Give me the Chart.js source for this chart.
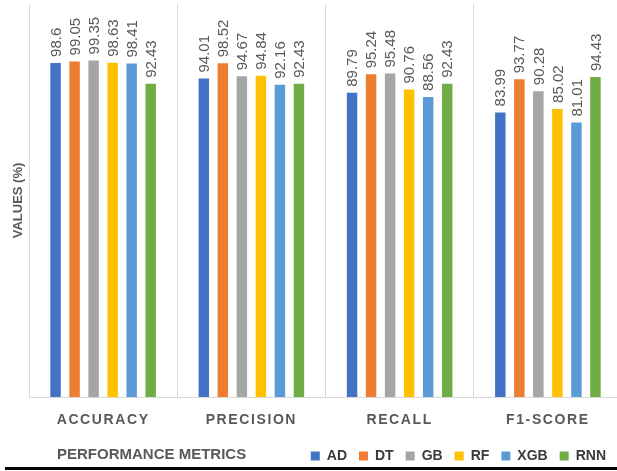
<!DOCTYPE html>
<html>
<head>
<meta charset="utf-8">
<script src="https://cdn.jsdelivr.net/npm/chart.js@4/dist/chart.umd.min.js"></script>
<style>
  html, body { margin: 0; padding: 0; background: #fff; }
  #wrap { position: relative; width: 617px; height: 471px; overflow: hidden; background: #fff; }
  #chart { position: absolute; left: 0; top: 0; }
  #rule { position: absolute; left: 5px; top: 467px; width: 612px; height: 3px; background: #000; }
</style>
</head>
<body>
<div id="wrap">
  <canvas id="chart" width="622" height="473"></canvas>
  <div id="rule"></div>
</div>
<script>
// Metrics on the category axis
const metrics = ['ACCURACY', 'PRECISION', 'RECALL', 'F1-SCORE'];

// Scores (%) per model
const modelNames = ['AD', 'DT', 'GB', 'RF', 'XGB', 'RNN'];
const adScores  = [98.6, 94.01, 89.79, 83.99];
const dtScores  = [99.05, 98.52, 95.24, 93.77];
const gbScores  = [99.35, 94.67, 95.48, 90.28];
const rfScores  = [98.63, 94.84, 90.76, 85.02];
const xgbScores = [98.41, 92.16, 88.56, 81.01];
const rnnScores = [92.43, 92.43, 92.43, 94.43];

const modelColors = ['#4472C4', '#ED7D31', '#A5A5A5', '#FFC000', '#5B9BD5', '#70AD47'];
const allScores = [adScores, dtScores, gbScores, rfScores, xgbScores, rnnScores];

const FONT = '"Liberation Sans", Arial, sans-serif';
const GREY_TEXT = '#595959';

// Value labels written vertically above each bar
const barValues = {
  id: 'barValues',
  afterDatasetsDraw(chart) {
    const ctx = chart.ctx;
    ctx.save();
    ctx.font = '15px ' + FONT;
    ctx.fillStyle = GREY_TEXT;
    ctx.textAlign = 'left';
    ctx.textBaseline = 'middle';
    chart.data.datasets.forEach((ds, i) => {
      chart.getDatasetMeta(i).data.forEach((bar, j) => {
        ctx.save();
        ctx.translate(bar.x + 1, bar.y - 6);
        ctx.rotate(-Math.PI / 2);
        ctx.fillText(String(ds.data[j]), 0, 0);
        ctx.restore();
      });
    });
    ctx.restore();
  }
};

// Spaced-out category labels, shifted axis title and legend nudge
const axisStyling = {
  id: 'axisStyling',
  beforeDraw(chart) {
    const x = chart.scales.x;
    if (x && !x._styled) {
      const drawTitle = x.drawTitle;
      const drawLabels = x.drawLabels;
      x.drawTitle = function () {
        const c = this.ctx;
        c.save();
        c.translate(28, 0);
        drawTitle.call(this);
        c.restore();
      };
      x.drawLabels = function (area) {
        const c = this.ctx;
        c.save();
        c.letterSpacing = '1.6px';
        drawLabels.call(this, area);
        c.restore();
      };
      x._styled = true;
    }
    const lg = chart.legend;
    if (lg && !lg._styled) {
      const draw = lg.draw;
      lg.draw = function (area) {
        const c = this.ctx;
        c.save();
        c.translate(-4, 0);
        draw.call(this, area);
        c.restore();
      };
      lg._styled = true;
    }
  }
};

const datasets = modelNames.map((name, i) => ({
  label: name,
  data: allScores[i],
  backgroundColor: modelColors[i],
  borderWidth: 0,
  categoryPercentage: 0.77,
  barPercentage: 0.55
}));

new Chart(document.getElementById('chart'), {
  type: 'bar',
  data: { labels: metrics, datasets },
  plugins: [barValues, axisStyling],
  options: {
    responsive: false,
    devicePixelRatio: 1,
    animation: false,
    layout: { padding: { left: 6, right: 0, top: 4, bottom: 0 } },
    plugins: {
      tooltip: { enabled: false },
      legend: {
        position: 'bottom',
        align: 'end',
        labels: {
          boxWidth: 9,
          boxHeight: 9,
          padding: 12,
          color: '#3a3a3a',
          font: { family: FONT, size: 14, weight: 'bold' }
        }
      }
    },
    scales: {
      x: {
        grid: {
          offset: true,
          color: '#d9d9d9',
          lineWidth: 1,
          drawTicks: false
        },
        border: { display: true, color: '#d9d9d9', width: 1 },
        ticks: {
          padding: 15,
          color: GREY_TEXT,
          font: { family: FONT, size: 14, weight: 'bold' }
        },
        title: {
          display: true,
          text: 'PERFORMANCE METRICS',
          align: 'start',
          color: GREY_TEXT,
          font: { family: FONT, size: 15, weight: 'bold' },
          padding: { top: 2.2, bottom: -27 }
        }
      },
      y: {
        min: 0,
        max: 116,
        grid: { display: false, drawTicks: false },
        border: { display: false },
        ticks: { display: false },
        title: {
          display: true,
          text: 'VALUES (%)',
          color: GREY_TEXT,
          font: { family: FONT, size: 13, weight: 'bold' },
          padding: { top: 5, bottom: 2.4 }
        }
      }
    }
  }
});
</script>
</body>
</html>
